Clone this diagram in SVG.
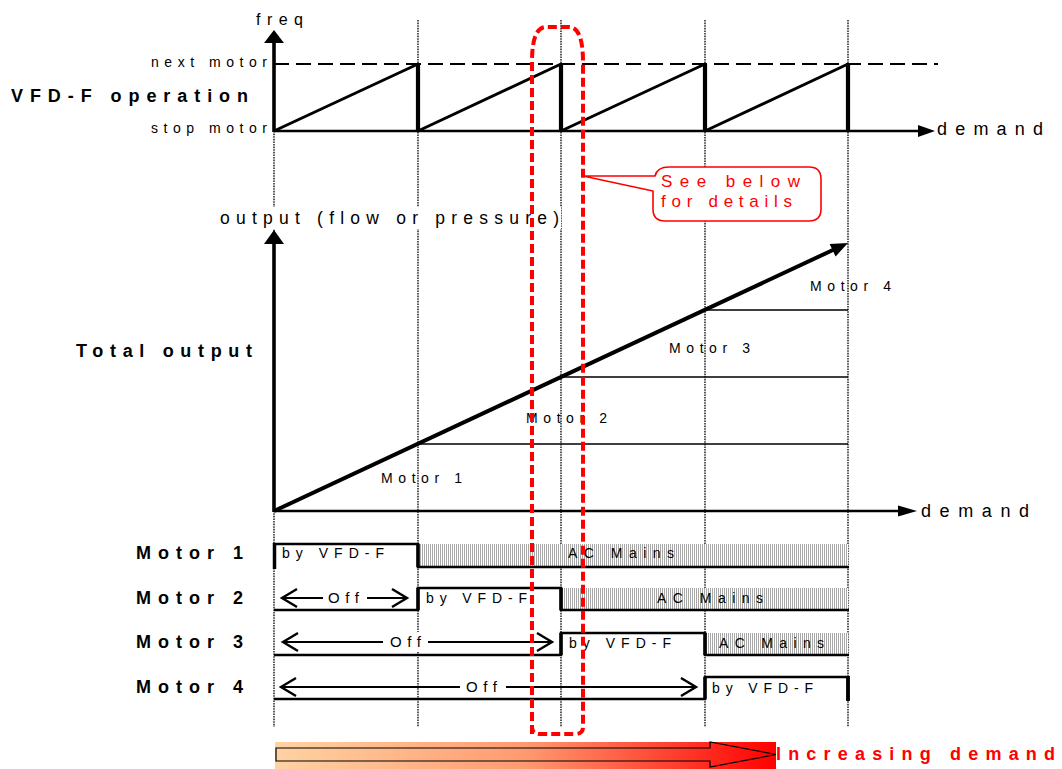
<svg xmlns="http://www.w3.org/2000/svg" width="1062" height="769" viewBox="0 0 1062 769">
<defs>
<style>
.t{font-family:"Liberation Sans",Arial,sans-serif;fill:#000}
.b{font-weight:bold}
.dot{stroke:#000;stroke-width:1.3;stroke-dasharray:1.6 1;fill:none}
.ln{stroke:#000;fill:none;stroke-linecap:butt}
.red{fill:#FF0000}
</style>
<pattern id="hatch" patternUnits="userSpaceOnUse" width="2" height="4">
<rect width="2" height="4" fill="#fff"/>
<rect width="1" height="4" fill="#A8A8A8"/>
</pattern>
<linearGradient id="grad" x1="0" y1="0" x2="1" y2="0">
<stop offset="0" stop-color="#FFD3A2"/>
<stop offset="0.5" stop-color="#FF9A70"/>
<stop offset="1" stop-color="#FF0000"/>
</linearGradient>
<marker id="chev" viewBox="-18 -11 20 22" refX="0" refY="0" markerWidth="20" markerHeight="22" markerUnits="userSpaceOnUse" orient="auto-start-reverse" overflow="visible">
<path d="M-15,-9 L0,0 L-15,9" fill="none" stroke="#000" stroke-width="2.4"/>
</marker>
</defs>

<g id="gridlines">
<line class="dot" x1="274" y1="131" x2="274" y2="727"/>
<line class="dot" x1="418" y1="20" x2="418" y2="727"/>
<line class="dot" x1="561" y1="20" x2="561" y2="727"/>
<line class="dot" x1="705" y1="20" x2="705" y2="727"/>
<line class="dot" x1="848" y1="20" x2="848" y2="727"/>
</g>

<g id="vfd-chart">
<line class="ln" x1="274" y1="64" x2="938" y2="64" stroke-width="1.8" stroke-dasharray="15 7"/>
<path class="ln" d="M274,131 L418,64 M418,131 L561,64 M561,131 L705,64 M705,131 L848,64" stroke-width="3"/>
<path class="ln" d="M418,64 V131 M561,64 V131 M705,64 V131 M848,64 V131" stroke-width="4.2"/>
<line class="ln" x1="274" y1="131" x2="919" y2="131" stroke-width="2.5"/>
<polygon points="918,125 935,131 918,137" fill="#000"/>
<line class="ln" x1="274" y1="132" x2="274" y2="42" stroke-width="3.6"/>
<polygon points="264,43 274,30 284,43" fill="#000"/>
<text class="t" x="256" y="25" font-size="16" textLength="47" lengthAdjust="spacing">freq</text>
<text class="t" x="151" y="67" font-size="14" textLength="116" lengthAdjust="spacing">next motor</text>
<text class="t" x="151" y="133" font-size="14" textLength="116" lengthAdjust="spacing">stop motor</text>
<text class="t b" x="11" y="102" font-size="18" textLength="237" lengthAdjust="spacing">VFD-F operation</text>
<text class="t" x="937" y="135" font-size="18" textLength="106" lengthAdjust="spacing">demand</text>
</g>

<g id="output-chart">
<rect x="218" y="207" width="343" height="22" fill="#fff"/>
<text class="t" x="220" y="224" font-size="17.5" textLength="339" lengthAdjust="spacing">output (flow or pressure)</text>
<line class="ln" x1="274" y1="512" x2="274" y2="243" stroke-width="3.6"/>
<polygon points="264,244 274,230 284,244" fill="#000"/>
<line class="ln" x1="274" y1="511" x2="899" y2="511" stroke-width="2.5"/>
<polygon points="898,505.5 917,511 898,516.5" fill="#000"/>
<text class="t" x="921" y="517" font-size="18" textLength="108" lengthAdjust="spacing">demand</text>
<path class="ln" d="M418,444 H848 M561,377 H848 M705,310 H848" stroke-width="1.3"/>
<line class="ln" x1="274" y1="511" x2="834" y2="249.5" stroke-width="4"/>
<polygon points="848,243 835.6,256.5 829.6,243.9" fill="#000"/>
<text class="t b" x="76" y="357" font-size="18" textLength="176" lengthAdjust="spacing">Total output</text>
<text class="t" x="381" y="483" font-size="14" textLength="81" lengthAdjust="spacing">Motor 1</text>
<text class="t" x="526" y="423" font-size="14" textLength="81" lengthAdjust="spacing">Motor 2</text>
<text class="t" x="669" y="353" font-size="14" textLength="81" lengthAdjust="spacing">Motor 3</text>
<text class="t" x="810" y="291" font-size="14" textLength="81" lengthAdjust="spacing">Motor 4</text>
</g>

<g id="motor1">
<rect x="418" y="544" width="430" height="22" fill="url(#hatch)"/>
<path class="ln" d="M274,544 H418 V567 H849" stroke-width="2.6"/>
<line class="ln" x1="274.5" y1="543" x2="274.5" y2="569" stroke-width="3.5"/>
<line class="ln" x1="418" y1="544" x2="418" y2="567" stroke-width="3.5"/>
<text class="t b" x="136" y="559" font-size="18" textLength="107" lengthAdjust="spacing">Motor 1</text>
<text class="t" x="282" y="558" font-size="14" textLength="102" lengthAdjust="spacing">by VFD-F</text>
<text class="t" x="568" y="558" font-size="14" textLength="106" lengthAdjust="spacing">AC Mains</text>
</g>

<g id="motor2">
<rect x="561" y="588" width="287" height="21" fill="url(#hatch)"/>
<path class="ln" d="M274,610 H418 V588 H561 V610 H849" stroke-width="2.6"/>
<path class="ln" d="M418,588 V610 M561,588 V610" stroke-width="3.5"/>
<line class="ln" x1="282" y1="598" x2="407" y2="598" stroke-width="2.2" marker-start="url(#chev)" marker-end="url(#chev)"/>
<rect x="323" y="588" width="44" height="20" fill="#fff"/>
<text class="t" x="328" y="603" font-size="15" textLength="31" lengthAdjust="spacing">Off</text>
<text class="t b" x="136" y="604" font-size="18" textLength="107" lengthAdjust="spacing">Motor 2</text>
<text class="t" x="426" y="603" font-size="14" textLength="101" lengthAdjust="spacing">by VFD-F</text>
<text class="t" x="657" y="603" font-size="14" textLength="106" lengthAdjust="spacing">AC Mains</text>
</g>

<g id="motor3">
<rect x="705" y="633" width="143" height="21" fill="url(#hatch)"/>
<path class="ln" d="M274,655 H561 V633 H705 V655 H849" stroke-width="2.6"/>
<path class="ln" d="M561,633 V655 M705,633 V655" stroke-width="3.5"/>
<line class="ln" x1="283" y1="642" x2="552" y2="642" stroke-width="2.2" marker-start="url(#chev)" marker-end="url(#chev)"/>
<rect x="383" y="632" width="45" height="20" fill="#fff"/>
<text class="t" x="390" y="647" font-size="15" textLength="31" lengthAdjust="spacing">Off</text>
<text class="t b" x="136" y="648" font-size="18" textLength="107" lengthAdjust="spacing">Motor 3</text>
<text class="t" x="569" y="648" font-size="14" textLength="102" lengthAdjust="spacing">by VFD-F</text>
<text class="t" x="719" y="648" font-size="14" textLength="105" lengthAdjust="spacing">AC Mains</text>
</g>

<g id="motor4">
<path class="ln" d="M274,699 H705 V677 H848 V700" stroke-width="2.6"/>
<line class="ln" x1="705" y1="677" x2="705" y2="699" stroke-width="3.5"/>
<line class="ln" x1="848" y1="676" x2="848" y2="701" stroke-width="3.8"/>
<line class="ln" x1="281" y1="687" x2="696" y2="687" stroke-width="2.2" marker-start="url(#chev)" marker-end="url(#chev)"/>
<rect x="460" y="677" width="46" height="20" fill="#fff"/>
<text class="t" x="466" y="692" font-size="15" textLength="31" lengthAdjust="spacing">Off</text>
<text class="t b" x="136" y="693" font-size="18" textLength="107" lengthAdjust="spacing">Motor 4</text>
<text class="t" x="712" y="693" font-size="14" textLength="101" lengthAdjust="spacing">by VFD-F</text>
</g>

<g id="demand-arrow">
<rect x="275" y="742" width="501" height="27" fill="url(#grad)"/>
<path d="M276,748 H710 V742 L776,754.5 L710,767 V761 H276 Z" fill="none" stroke="#000" stroke-width="1.2"/>
<text class="t b red" x="776" y="760" font-size="18" textLength="279" lengthAdjust="spacing">Increasing demand</text>
</g>

<g id="callout">
<path d="M532,734 V62 Q532,27 546,27 H569 Q583,27 583,62 V727 Q583,734 575,734 H540 Q532,734 532,727" fill="none" stroke="#FF0000" stroke-width="4" stroke-dasharray="9 4"/>
<path d="M583,176 L655,176 Q657,167 669,167 H809 Q821,167 821,179 V209 Q821,221 809,221 H665 Q653,221 653,209 V191 Z" fill="#fff" stroke="#FF0000" stroke-width="1.6" stroke-linejoin="round"/>
<text class="t red" x="661" y="187" font-size="17" textLength="139" lengthAdjust="spacing">See below</text>
<text class="t red" x="661" y="207" font-size="17" textLength="131" lengthAdjust="spacing">for details</text>
</g>
</svg>
